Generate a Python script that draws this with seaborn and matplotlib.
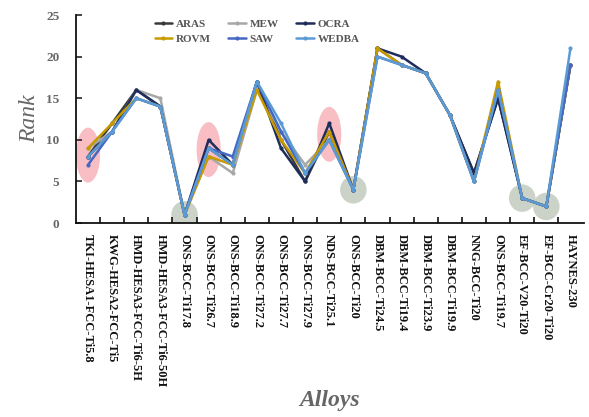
import numpy as np
import pandas as pd
import matplotlib
matplotlib.use("Agg")
import matplotlib.pyplot as plt
from matplotlib.patches import Ellipse
import seaborn as sns

alloys = ["TKI-HESA1-FCC-Ti5.8", "KWG-HESA2-FCC-Ti5", "HMD-HESA3-FCC-Ti6-5H",
          "HMD-HESA3-FCC-Ti6-50H", "ONS-BCC-Ti17.8", "ONS-BCC-Ti26.7",
          "ONS-BCC-Ti18.9", "ONS-BCC-Ti27.2", "ONS-BCC-Ti27.7", "ONS-BCC-Ti27.9",
          "NDS-BCC-Ti25.1", "ONS-BCC-Ti20", "DBM-BCC-Ti24.5", "DBM-BCC-Ti19.4",
          "DBM-BCC-Ti23.9", "DBM-BCC-Ti19.9", "NNG-BCC-Ti20", "ONS-BCC-Ti19.7",
          "EF-BCC-V20-Ti20", "EF-BCC-Cr20-Ti20", "HAYNES-230"]

methods = ["ARAS", "MEW", "OCRA", "ROVM", "SAW", "WEDBA"]
aras  = [8, 12, 16, 14, 1, 9, 7, 17, 10, 5, 11, 4, 21, 19, 18, 13, 6, 15, 3, 2, 19]
mew   = [9, 11, 16, 15, 1, 8, 6, 16, 11, 7, 10, 4, 21, 19, 18, 13, 5, 16, 3, 2, 19]
ocra  = [8, 11, 16, 14, 1, 10, 7, 17, 9, 5, 12, 4, 21, 20, 18, 13, 6, 15, 3, 2, 19]
rovm  = [9, 12, 15, 14, 1, 8, 7, 16, 10, 6, 11, 4, 21, 19, 18, 13, 5, 17, 3, 2, 19]
saw   = [7, 11, 15, 14, 1, 9, 8, 17, 11, 6, 10, 4, 20, 19, 18, 13, 5, 16, 3, 2, 19]
wedba = [8, 11, 15, 14, 1, 9, 7, 17, 12, 6, 10, 4, 20, 19, 18, 13, 5, 16, 3, 2, 21]
series = [aras, mew, ocra, rovm, saw, wedba]

colors = ["#3a3a3a", "#a8a8a8", "#1f2d5c", "#c79a00", "#4468c4", "#5b9bd5"]
pink_idx = [0, 5, 10]
gray_idx = [4, 11, 18, 19]

rows = []
for m, vals in zip(methods, series):
    for i, v in enumerate(vals):
        rows.append({"idx": i, "Rank": v, "Method": m})
df = pd.DataFrame(rows)

sns.set_style("white")
plt.rcParams["font.family"] = ["Liberation Serif", "DejaVu Serif"]

fig = plt.figure(figsize=(5.89, 4.17), dpi=100)
ax = fig.add_axes([0.129, 0.465, 0.862, 0.499])

# highlight shapes (behind lines)
arr = np.array(series)
for i in pink_idx:
    c = arr[:, i].mean()
    ax.add_patch(Ellipse((i, c), 1.0, 6.6, facecolor="#f7b3b9", edgecolor="none",
                         alpha=0.85, zorder=0))
for i in gray_idx:
    c = arr[:, i].mean()
    ax.add_patch(Ellipse((i, c), 1.1, 3.3, facecolor="#c6cdc2", edgecolor="none",
                         alpha=0.9, zorder=0))

sns.lineplot(data=df, x="idx", y="Rank", hue="Method", palette=colors,
             marker="o", markersize=3, markeredgewidth=0, linewidth=1.8,
             ax=ax, legend=True, zorder=3)

ax.set_xlim(-0.5, 20.55)
ax.set_ylim(0, 25)
ax.set_yticks([0, 5, 10, 15, 20, 25])
ax.set_xticks(range(len(alloys)))
ax.set_xticklabels(alloys, rotation=-90, fontsize=9, fontweight="bold",
                   color="#111111", va="top", ha="center")
ax.set_xticks(np.arange(0.5, len(alloys) - 0.5, 1), minor=True)
ax.tick_params(axis="x", which="major", length=0, pad=8)
ax.tick_params(axis="x", which="minor", direction="in", length=4, width=1.2,
               color="#111111", bottom=True)
ax.tick_params(axis="y", direction="in", length=4, width=1.2, left=True,
               labelsize=9.5, labelcolor="#666666", pad=12)
for lab in ax.get_yticklabels():
    lab.set_fontweight("bold")

for s in ["top", "right"]:
    ax.spines[s].set_visible(False)
for s in ["left", "bottom"]:
    ax.spines[s].set_color("#111111")
    ax.spines[s].set_linewidth(1.3)

ax.set_xlabel("")
ax.set_ylabel("Rank", fontsize=17, fontstyle="italic", color="#666666", labelpad=4)
fig.text(0.56, 0.04, "Alloys", fontsize=17, fontstyle="italic", fontweight="bold",
         color="#666666", ha="center", va="center")

handles, labels = ax.get_legend_handles_labels()
order = [0, 3, 1, 4, 2, 5]
leg = ax.legend([handles[k] for k in order], [labels[k] for k in order],
                ncol=3, loc="upper left", bbox_to_anchor=(0.135, 1.03),
                frameon=False, fontsize=8, handlelength=1.6, columnspacing=1.6,
                handletextpad=0.3, labelspacing=0.5)
for t in leg.get_texts():
    t.set_color("#555555")
    t.set_fontweight("bold")

fig.savefig("out.png", dpi=100)
